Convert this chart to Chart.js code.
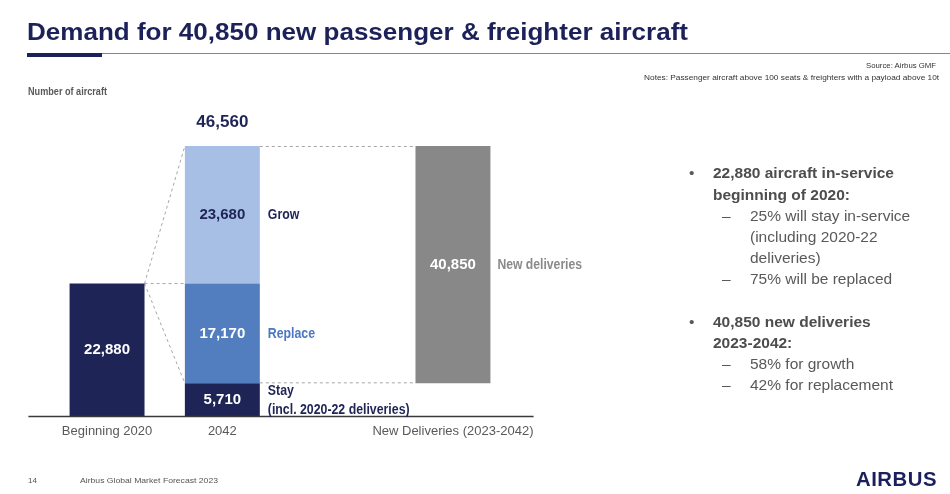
<!DOCTYPE html>
<html>
<head>
<meta charset="utf-8">
<script src="https://cdn.jsdelivr.net/npm/chart.js@4.4.0/dist/chart.umd.min.js"></script>
<style>
  html, body { margin: 0; padding: 0; background: #fff; }
  body { width: 950px; height: 494px; position: relative; overflow: hidden; font-family: "Liberation Sans", Arial, sans-serif; }
  #c { position: absolute; left: 0; top: 0; }
  .t { position: absolute; white-space: nowrap; line-height: 1; }
  .fit { transform-origin: left center; }
  .fitr { transform-origin: right center; }
</style>
</head>
<body>
<canvas id="c" width="950" height="494"></canvas>

<div class="t fit" data-w="661" style="left:27px;top:20px;font-size:24px;font-weight:bold;color:#1d2159;">Demand for 40,850 new passenger &amp; freighter aircraft</div>
<div style="position:absolute;left:27px;top:53px;width:923px;height:1px;background:#8082aa;"></div>
<div style="position:absolute;left:27px;top:53px;width:75px;height:4px;background:#1d2159;"></div>

<div class="t fitr" data-w="70" style="right:14px;top:61.8px;font-size:8px;color:#333;">Source: Airbus GMF</div>
<div class="t fitr" data-w="295" style="right:11px;top:73.8px;font-size:8px;color:#333;">Notes: Passenger aircraft above 100 seats &amp; freighters with a payload above 10t</div>
<div class="t fit" data-w="79" style="left:28px;top:85.6px;font-size:11px;font-weight:bold;color:#595959;">Number of aircraft</div>

<div id="bullets"></div>

<div class="t" style="left:28px;top:477px;font-size:8px;color:#555;">14</div>
<div class="t fit" data-w="138" style="left:80px;top:477px;font-size:8px;color:#555;">Airbus Global Market Forecast 2023</div>
<div class="t fit" data-w="81" style="left:856px;top:469px;font-size:20px;font-weight:bold;color:#1b1f5e;letter-spacing:0.5px;">AIRBUS</div>

<script>
// data
const categories = ['Beginning 2020', '2042', '', 'New Deliveries (2023-2042)'];
const inService2020 = [22880, null, null, null];
const stay = [null, 5710, null, null];
const replace = [null, 17170, null, null];
const grow = [null, 23680, null, null];
const newDeliveries = [null, null, null, 40850];
const segmentNames = ['Stay', 'Replace', 'Grow', 'New deliveries'];

const bulletLines = [
  ['•', '22,880 aircraft in-service', true],
  ['', 'beginning of 2020:', true],
  ['–', '25% will stay in-service', false],
  ['', '(including 2020-22', false],
  ['', 'deliveries)', false],
  ['–', '75% will be replaced', false],
  null,
  ['•', '40,850 new deliveries', true],
  ['', '2023-2042:', true],
  ['–', '58% for growth', false],
  ['–', '42% for replacement', false]
];

// bullets on the right
var bl = document.getElementById('bullets');
var y = 173;
bulletLines.forEach(function (ln) {
  if (ln) {
    var mark = ln[0], text = ln[1], bold = ln[2];
    var fs = 15.5, top = y - 0.49 * fs;
    var tx = bold ? 713 : 750;
    if (mark) {
      var m = document.createElement('div');
      m.className = 't';
      m.style.cssText = 'left:' + (bold ? 689 : 722) + 'px;top:' + top + 'px;font-size:' + fs + 'px;color:#595959;';
      m.textContent = mark;
      bl.appendChild(m);
    }
    var d = document.createElement('div');
    d.className = 't';
    d.style.cssText = 'left:' + tx + 'px;top:' + top + 'px;font-size:' + fs + 'px;color:' + (bold ? '#4d4d4d' : '#595959') + ';font-weight:' + (bold ? 'bold' : 'normal') + ';';
    d.textContent = text;
    bl.appendChild(d);
  }
  y += ln ? 21.1 : 22;
});

document.querySelectorAll('[data-w]').forEach(function (el) {
  var w = el.getBoundingClientRect().width;
  el.style.transform = 'scaleX(' + (parseFloat(el.dataset.w) / w) + ')';
});

// floating ranges built from the values
function ranges(vals, bases) {
  return vals.map(function (v, i) {
    if (v === null) return null;
    var b = bases ? (bases[i] || 0) : 0;
    return [b, b + v];
  });
}
const stayTop = stay.map(function (v) { return v; });
const replaceTop = stay.map(function (v, i) { return v === null ? null : v + replace[i]; });
const deliveriesBase = [null, null, null, stay[1]];

const navy = '#1f2456';
const colors = { start: navy, stay: navy, replace: '#527dbf', grow: '#a7bfe5', deliveries: '#888888' };
const fmt = function (v) { return v.toLocaleString('en-US'); };

function txt(ctx, s, x, y, font, color, align, sx) {
  ctx.save();
  ctx.font = font;
  ctx.fillStyle = color;
  ctx.textAlign = align;
  ctx.textBaseline = 'middle';
  ctx.translate(x, y);
  ctx.scale(sx || 1, 1);
  ctx.fillText(s, 0, 0);
  ctx.restore();
}

const overlay = {
  id: 'overlay',
  beforeDatasetsDraw: function (chart) {
    var ctx = chart.ctx, ys = chart.scales.y, a = chart.chartArea;
    var b1 = chart.getDatasetMeta(0).data[0];
    var s = chart.getDatasetMeta(1).data[1];
    var g = chart.getDatasetMeta(3).data[1];
    var d = chart.getDatasetMeta(4).data[3];
    var b1r = b1.x + b1.width / 2, b2l = s.x - s.width / 2, b2r = s.x + s.width / 2, b3l = d.x - d.width / 2;
    ctx.save();
    ctx.strokeStyle = '#a6a6a6';
    ctx.lineWidth = 1;
    ctx.setLineDash([3, 3]);
    ctx.beginPath();
    ctx.moveTo(b1r, b1.y); ctx.lineTo(b2l, g.y);
    ctx.moveTo(b1r, b1.y); ctx.lineTo(b2l, b1.y);
    ctx.moveTo(b1r, b1.y); ctx.lineTo(b2l, s.y);
    ctx.moveTo(b2r, g.y + 0.5); ctx.lineTo(b3l, g.y + 0.5);
    ctx.moveTo(b2r, s.y - 0.5); ctx.lineTo(b3l, s.y - 0.5);
    ctx.stroke();
    ctx.restore();
  },
  afterDatasetsDraw: function (chart) {
    var ctx = chart.ctx, ys = chart.scales.y, a = chart.chartArea;
    var y0 = ys.getPixelForValue(0);
    ctx.save();
    ctx.strokeStyle = '#3a3a3a';
    ctx.lineWidth = 1.5;
    ctx.beginPath();
    ctx.moveTo(a.left - 21, y0); ctx.lineTo(a.right + 23, y0);
    ctx.stroke();
    ctx.restore();

    var vf = 'bold 15px "Liberation Sans", Arial, sans-serif';
    var lf = 'bold 14px "Liberation Sans", Arial, sans-serif';
    var mid = function (el) { return (el.y + el.base) / 2; };
    var b1 = chart.getDatasetMeta(0).data[0];
    var s = chart.getDatasetMeta(1).data[1];
    var r = chart.getDatasetMeta(2).data[1];
    var g = chart.getDatasetMeta(3).data[1];
    var d = chart.getDatasetMeta(4).data[3];
    txt(ctx, fmt(inService2020[0]), b1.x, mid(b1), vf, '#fff', 'center');
    txt(ctx, fmt(stay[1]), s.x, mid(s), vf, '#fff', 'center');
    txt(ctx, fmt(replace[1]), r.x, mid(r), vf, '#fff', 'center');
    txt(ctx, fmt(grow[1]), g.x, mid(g), vf, navy, 'center');
    txt(ctx, fmt(newDeliveries[3]), d.x, mid(d), vf, '#fff', 'center');

    var lx = s.x + s.width / 2 + 8;
    txt(ctx, segmentNames[2], lx, mid(g), lf, navy, 'left', 0.88);
    txt(ctx, segmentNames[1], lx, mid(r) + 0.5, lf, '#4a78c2', 'left', 0.88);
    txt(ctx, segmentNames[0], lx, s.y + 7.5, lf, navy, 'left', 0.88);
    txt(ctx, '(incl. 2020-22 deliveries)', lx, s.y + 26.5, lf, navy, 'left', 0.88);
    txt(ctx, segmentNames[3], d.x + d.width / 2 + 7, mid(d), lf, '#8a8a8a', 'left', 0.87);

    var total = stay[1] + replace[1] + grow[1];
    txt(ctx, fmt(total), g.x, g.y - 23.5, 'bold 17px "Liberation Sans", Arial, sans-serif', navy, 'center');
  }
};

function ds(label, data, color) {
  return { label: label, data: data, backgroundColor: color, borderWidth: 0, grouped: false,
           barPercentage: 0.65, categoryPercentage: 1 };
}

new Chart(document.getElementById('c'), {
  type: 'bar',
  data: {
    labels: categories,
    datasets: [
      ds('Beginning 2020', ranges(inService2020), colors.start),
      ds('Stay', ranges(stay), colors.stay),
      ds('Replace', ranges(replace, stayTop), colors.replace),
      ds('Grow', ranges(grow, replaceTop), colors.grow),
      ds('New deliveries', ranges(newDeliveries, deliveriesBase), colors.deliveries)
    ]
  },
  options: {
    responsive: false,
    devicePixelRatio: 1,
    animation: false,
    layout: { padding: { left: 49.4, right: 439.4, top: 126, bottom: 47.5 } },
    plugins: { legend: { display: false }, tooltip: { enabled: false } },
    scales: {
      x: {
        grid: { display: false, drawTicks: false },
        border: { display: false },
        ticks: { color: '#595959', padding: 7, maxRotation: 0, autoSkip: false,
                 font: { family: '"Liberation Sans", Arial, sans-serif', size: 13 } },
        afterFit: function (sc) { sc.height = 30; }
      },
      y: { display: false, min: 0, max: 50000 }
    }
  },
  plugins: [overlay]
});
</script>
</body>
</html>
